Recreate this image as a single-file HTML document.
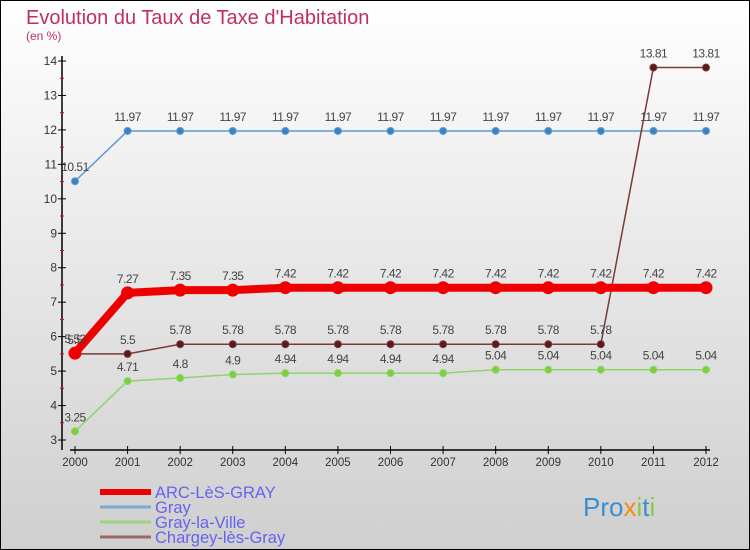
<!DOCTYPE html>
<html><head><meta charset="utf-8"><style>
body{margin:0}
#wrap{width:750px;height:550px;position:relative;overflow:hidden;background:linear-gradient(#fff,#f0f0f0 30%,#d6d6d6 85%,#cfcfcf);font-family:"Liberation Sans",sans-serif}
</style></head><body>
<div id="wrap">
<svg id="chart" width="750" height="550">
<rect x="0.5" y="0.5" width="749" height="549" fill="none" stroke="#000"/>
<text x="26" y="24" font-size="20" fill="#c0305f">Evolution du Taux de Taxe d'Habitation</text>
<text x="26" y="40" font-size="12" fill="#c0305f">(en %)</text>
</svg>
</div>
<script>
const years=[2000,2001,2002,2003,2004,2005,2006,2007,2008,2009,2010,2011,2012];
const arc=[5.52,7.27,7.35,7.35,7.42,7.42,7.42,7.42,7.42,7.42,7.42,7.42,7.42];
const gray=[10.51,11.97,11.97,11.97,11.97,11.97,11.97,11.97,11.97,11.97,11.97,11.97,11.97];
const grayVille=[3.25,4.71,4.8,4.9,4.94,4.94,4.94,4.94,5.04,5.04,5.04,5.04,5.04];
const chargey=[5.5,5.5,5.78,5.78,5.78,5.78,5.78,5.78,5.78,5.78,5.78,13.81,13.81];
const yTicks=[3,4,5,6,7,8,9,10,11,12,13,14];
const seriesNames=["ARC-LèS-GRAY","Gray","Gray-la-Ville","Chargey-lès-Gray"];
const svg=document.getElementById('chart');const NS='http://www.w3.org/2000/svg';
const xS=i=>75+i*(706-75)/(years.length-1);
const yS=v=>440-(v-3)*(440-61)/11;
function mk(t,a,p){const e=document.createElementNS(NS,t);for(const k in a)e.setAttribute(k,a[k]);(p||svg).appendChild(e);return e;}
const ax=mk('g',{});


mk('line',{x1:62,y1:56,x2:62,y2:450,stroke:'#000','stroke-width':1.5},ax);
mk('line',{x1:70,y1:450,x2:710,y2:450,stroke:'#000','stroke-width':1.5},ax);
yTicks.forEach(v=>{const y=yS(v);mk('line',{x1:58,y1:y,x2:66,y2:y,stroke:'#000'},ax);
 if(v<14)mk('line',{x1:60,y1:yS(v+0.5),x2:64,y2:yS(v+0.5),stroke:'#e00'},ax);
 const t=mk('text',{x:57,y:y+4,'text-anchor':'end','font-size':12,fill:'#333'},ax);t.textContent=v;
 
 });
years.forEach((yr,i)=>{const x=xS(i);mk('line',{x1:x,y1:446,x2:x,y2:454,stroke:'#000'},ax);
 const t=mk('text',{x:x,y:466,'text-anchor':'middle','font-size':11.5,fill:'#333'},ax);t.textContent=yr;
 
 });
function series(data,color,w,r,name,dot){const g=mk('g',{});
 
 
 mk('polyline',{points:data.map((v,i)=>xS(i)+','+yS(v)).join(' '),fill:'none',stroke:color,'stroke-width':w,'stroke-linejoin':'round'},g);
 data.forEach((v,i)=>{const c=mk('circle',{cx:xS(i),cy:yS(v),r:r,fill:dot,stroke:color,'stroke-width':1},g);
  
  
  const t=mk('text',{x:xS(i),y:yS(v)-10,'text-anchor':'middle','font-size':12,fill:'#444','letter-spacing':'-0.5'},g);t.textContent=String(v);
  
  });}
series(gray,'#5b9bd5',1.5,3.5,'gray-series','#3b82c4');
series(grayVille,'#8fd46a',1.5,3.5,'gray-la-ville-series','#7ccf3e');
series(chargey,'#7a3a3a',1.5,3.5,'chargey-series','#5a1a1a');
series(arc,'#ee0000',8,6,'arc-les-gray-series','#ee0000');
const legCols=['#ee0000','#7aaad0','#9fd47e','#9a6a6a'];const legW=[6,3,3,3];
seriesNames.forEach((n,i)=>{const y=492+i*15;const g=mk('g',{});
 
 
 mk('line',{x1:100,y1:y,x2:151,y2:y,stroke:legCols[i],'stroke-width':legW[i]},g);
 const t=mk('text',{x:155,y:y+6,'font-size':16.5,fill:'#6464ee'},g);t.textContent=n;});
const lg=mk('text',{x:583,y:516,'font-size':26,fill:'#3a8fd0'});


lg.innerHTML='Pro<tspan fill="#f08a1a">x</tspan><tspan fill="#8cc63f">i</tspan>t<tspan fill="#8cc63f">i</tspan>';
</script>
</body></html>
